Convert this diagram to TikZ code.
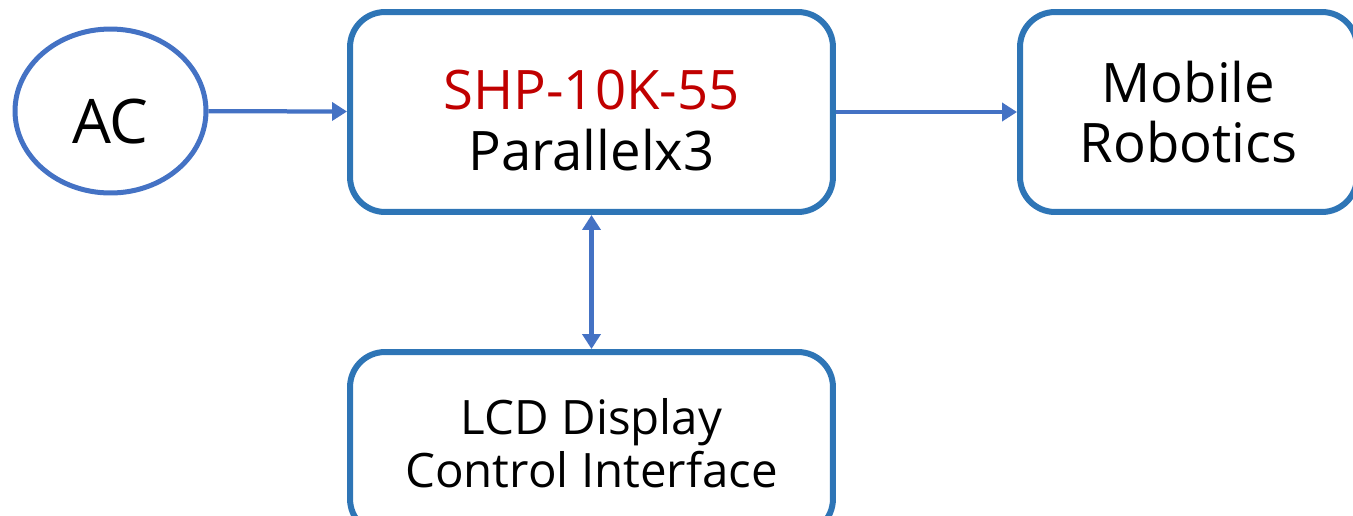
\documentclass[tikz,border=0pt]{standalone}
\usepackage{fontspec}
\setmainfont{Open Sans}
\usetikzlibrary{arrows.meta,shapes.geometric}
\definecolor{boxblue}{RGB}{46,117,182}
\definecolor{linkblue}{RGB}{68,114,196}
\definecolor{partred}{RGB}{192,0,0}
\tikzset{
	blockbox/.style={draw=boxblue, line width=0.12cm, rounded corners=0.7cm,
		minimum width=9.66cm, minimum height=4cm, align=center,
		font=\fontsize{31}{34.5}\selectfont},
	link/.style={draw=linkblue, line width=0.085cm},
	linktip/.tip={Triangle[length=0.3cm,width=0.36cm]}
}
\begin{document}
\begin{tikzpicture}[x=0.02cm,y=-0.02cm]
\useasboundingbox (0,0) rectangle (1353,515);
\node[ellipse, draw=linkblue, line width=0.1cm, minimum width=3.82cm, minimum height=3.28cm,
	font=\fontsize{35}{38}\selectfont] (ac) at (110.5,111) {\rule{0pt}{37pt}AC};
\node[blockbox] (ups) at (591.5,112) {\rule{0pt}{32pt}\textcolor{partred}{SHP-10K-55}\\Parallelx3};
\node[blockbox, minimum width=6.74cm] (robot) at (1188.5,112) {Mobile\\Robotics};
\node[blockbox, minimum height=3.64cm, font=\fontsize{27}{30}\selectfont] (lcd) at (591.5,443)
	{LCD Display\\Control Interface};
\draw [link,-linktip] (ac) -- (ups);
\draw [link,-linktip] (ups) -- (robot);
\draw [link,linktip-linktip] (ups) -- (lcd);
\end{tikzpicture}
\end{document}
